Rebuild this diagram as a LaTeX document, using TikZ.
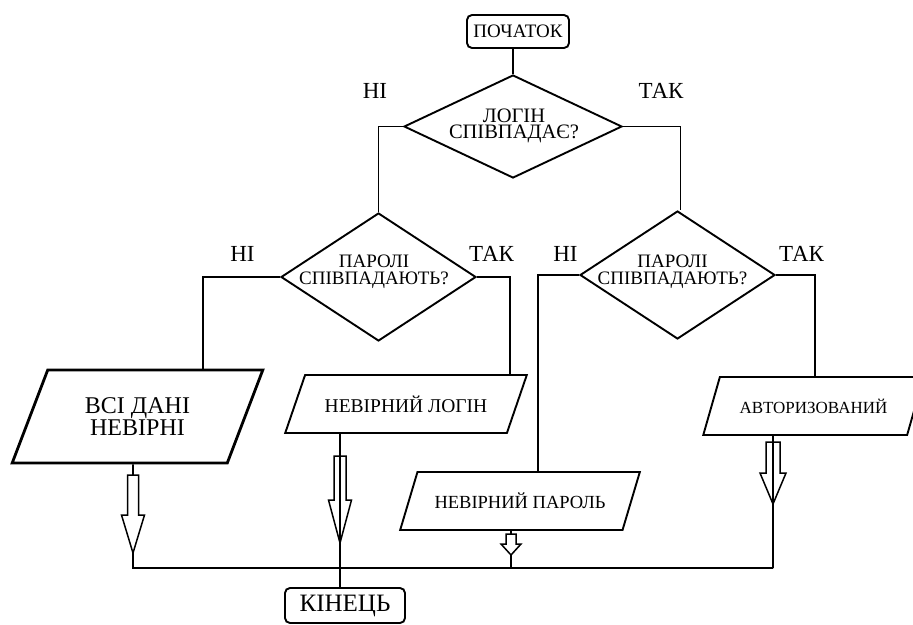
\documentclass[tikz,border=0pt]{standalone}
\usepackage{fontspec}
\setmainfont{Liberation Serif}
\usetikzlibrary{shapes.geometric}
\newcommand\harrow[6]{\draw[harr] (#1-#5,#2) -- (#1+#5,#2) -- (#1+#5,#3) -- (#1+#6,#3) -- (#1,#4) -- (#1-#6,#3) -- (#1-#5,#3) -- cycle;}
\begin{document}
\begin{tikzpicture}[x=1pt,y=-1pt,
  conn/.style={line width=1.9pt},
  term/.style={draw, line width=1.9pt, rounded corners=5pt, inner sep=0pt},
  dia/.style={draw, diamond, line width=1.9pt, inner sep=0pt},
  dtext/.style={align=center, inner sep=0pt},
  io/.style={draw, trapezium, trapezium stretches=true, line width=1.9pt, inner sep=2pt, align=center},
  yn/.style={font=\fontsize{23}{23}\selectfont, inner sep=0pt},
  harr/.style={line width=1.5pt, line join=miter}]
\useasboundingbox (0,0) rectangle (913,624);
\clip (0,0) rectangle (913,624);
\fill[white] (0,0) rectangle (913,624);

% terminals
\node[term, minimum width=102pt, minimum height=33pt, font=\fontsize{19}{19}\selectfont] (start) at (518,31.5) {ПОЧАТОК};
\node[term, minimum width=120pt, minimum height=35pt, font=\fontsize{25}{25}\selectfont] (end) at (345,605.5) {КІНЕЦЬ};

% decisions
\node[dia, minimum width=218pt, minimum height=103pt] (d1) at (513,126.5) {};
\node[dtext, font=\fontsize{20.5}{16}\selectfont] (t1) at (514,125.5) {ЛОГІН\\СПІВПАДАЄ?};
\node[dia, minimum width=195pt, minimum height=128pt] (d2) at (378.5,277) {};
\node[dtext, font=\fontsize{19}{17}\selectfont] (t2) at (374,271.5) {ПАРОЛІ\\СПІВПАДАЮТЬ?};
\node[dia, minimum width=195pt, minimum height=128pt] (d3) at (677.5,275) {};
\node[dtext, font=\fontsize{19}{17}\selectfont] (t3) at (672.5,271.5) {ПАРОЛІ\\СПІВПАДАЮТЬ?};

% yes / no labels
\node[yn] (n1) at (375,91) {НІ};
\node[yn] (y1) at (661,91) {ТАК};
\node[yn] (n2) at (242.5,254) {НІ};
\node[yn] (y2) at (491.5,253.5) {ТАК};
\node[yn] (n3) at (565.5,253.5) {НІ};
\node[yn] (y3) at (801.5,253.5) {ТАК};

% outputs
\node[io, trapezium left angle=62.7, trapezium right angle=117.3, minimum width=251pt, minimum height=93pt, line width=2.8pt, font=\fontsize{24}{17}\selectfont] (p1) at (137.5,416.5) {ВСІ ДАНІ\\НЕВІРНІ};
\node[io, trapezium left angle=51.6, trapezium right angle=128.4, minimum width=242pt, minimum height=58pt, font=\fontsize{19.5}{19.5}\selectfont] (p2) at (406,404) {НЕВІРНИЙ ЛОГІН};
\node[io, trapezium left angle=53.4, trapezium right angle=126.6, minimum width=240pt, minimum height=58pt, font=\fontsize{18.5}{18.5}\selectfont] (p3) at (520,501) {НЕВІРНИЙ ПАРОЛЬ};
\node[io, trapezium left angle=54.1, trapezium right angle=125.9, minimum width=221pt, minimum height=58pt, font=\fontsize{17}{17}\selectfont] (p4) at (813.5,406) {АВТОРИЗОВАНИЙ};

% connectors
\draw[conn] (start.south -| d1.north) -- (d1.north);
\draw[conn] (d1.west) -| (d2.north);
\draw[conn] (d1.east) -| ([xshift=3pt]d3.north);
\draw[conn] (d2.west) -| ([xshift=65.5pt]p1.north);
\draw[conn] (d2.east) -| ([xshift=104pt]p2.north);
\draw[conn] (d3.west) -| ([xshift=18pt]p3.north);
\draw[conn] (d3.east) -| ([xshift=1.5pt]p4.north);

\coordinate (j1) at (133,568);
\coordinate (j2) at (340,568);
\coordinate (j3) at (511,568);
\coordinate (j4) at (773,568);
\draw[conn] ([xshift=-4.5pt]p1.south) -- (j1) -- (j4);
\draw[conn] ([xshift=-66pt]p2.south) -- (j2) -- (j2 |- end.north);
\draw[conn] ([xshift=-9pt]p3.south) -- (j3);
\draw[conn] ([xshift=-40.5pt]p4.south) -- (j4);

% hollow arrows
\draw[harr, fill=white] (133-5.5,475) -- (133+5.5,475) -- (133+5.5,515) -- (133+11.5,515) -- (133,553) -- (133-11.5,515) -- (133-5.5,515) -- cycle;
\harrow{340}{456}{500}{543}{6}{11.5}
\draw[harr, fill=white] (511-5,534) -- (511+5,534) -- (511+5,544) -- (511+10,544) -- (511,555) -- (511-10,544) -- (511-5,544) -- cycle;
\harrow{773}{442}{473}{504}{7}{13}
\end{tikzpicture}
\end{document}
